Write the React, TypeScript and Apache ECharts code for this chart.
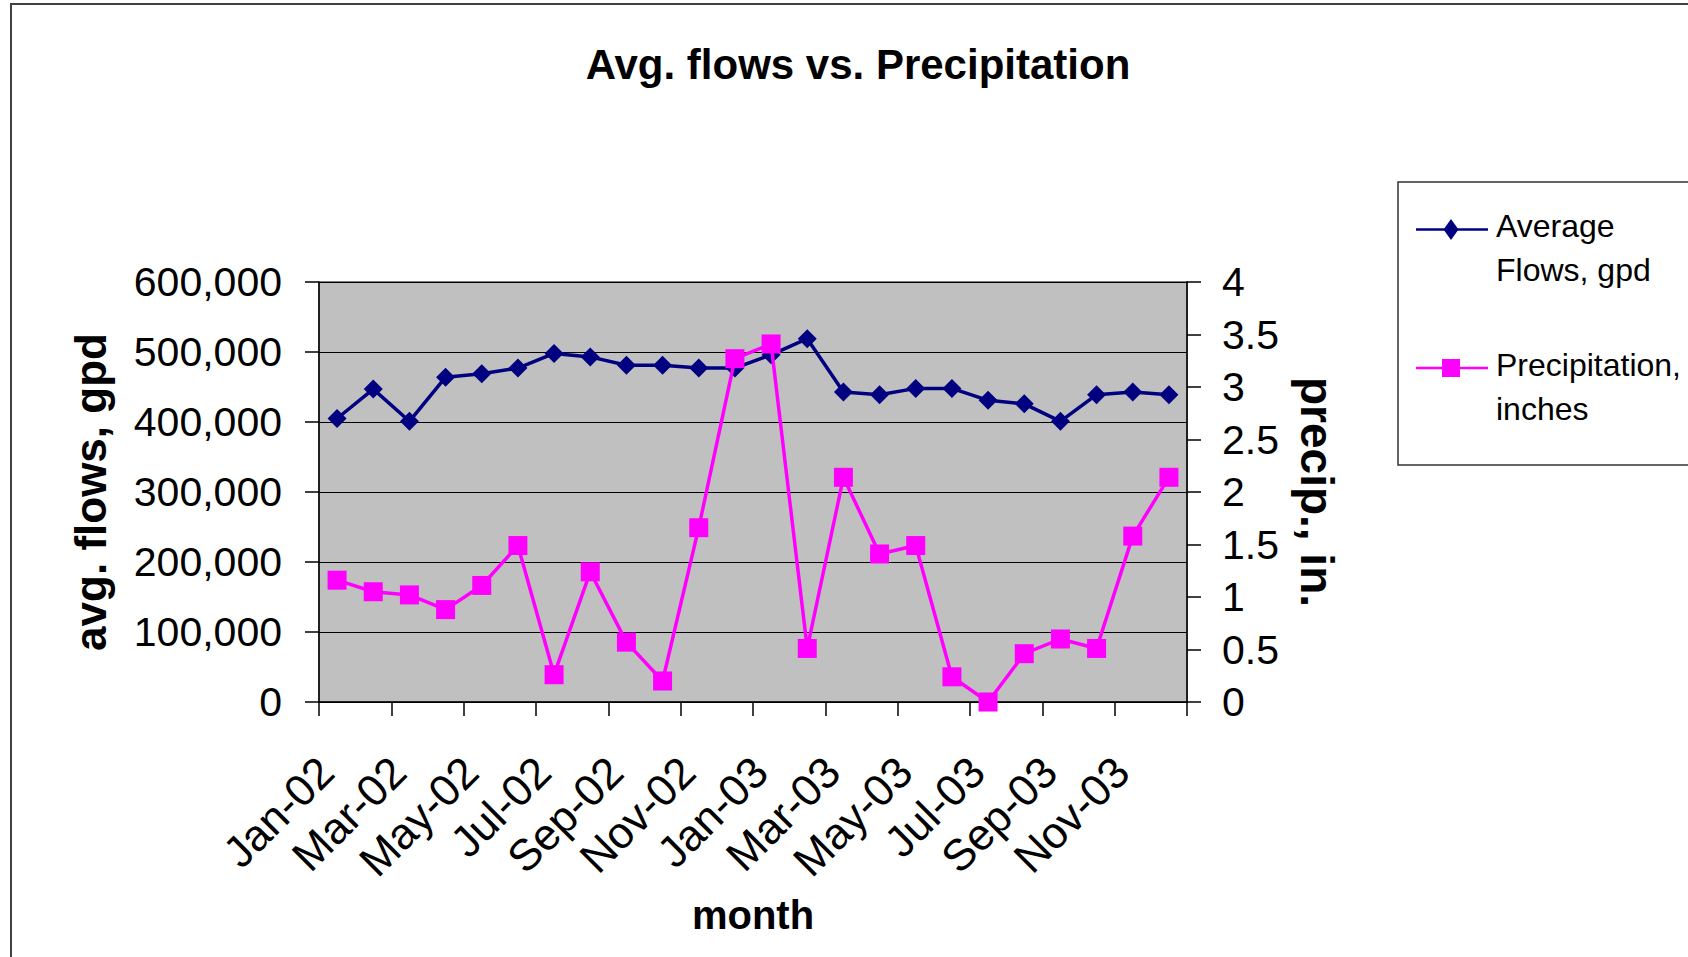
import React, { useEffect, useRef } from "react";
import * as echarts from "echarts";

const months = [
  "Jan-02", "Feb-02", "Mar-02", "Apr-02", "May-02", "Jun-02",
  "Jul-02", "Aug-02", "Sep-02", "Oct-02", "Nov-02", "Dec-02",
  "Jan-03", "Feb-03", "Mar-03", "Apr-03", "May-03", "Jun-03",
  "Jul-03", "Aug-03", "Sep-03", "Oct-03", "Nov-03", "Dec-03",
];

const avgFlows = [
  405000, 447000, 401000, 464000, 469000, 477000,
  498000, 493000, 481000, 481000, 477000, 477000,
  496000, 519000, 443000, 439000, 448000, 448000,
  431000, 426000, 401000, 439000, 443000, 439000,
];

const precipitation = [
  1.16, 1.05, 1.02, 0.88, 1.11, 1.49,
  0.26, 1.24, 0.57, 0.2, 1.66, 3.27,
  3.41, 0.51, 2.14, 1.41, 1.49, 0.24,
  0.0, 0.46, 0.6, 0.51, 1.58, 2.14,
];

const flowSeriesName = "Average Flows, gpd";
const precipSeriesName = "Precipitation, inches";
const legendLines1 = "Average\nFlows, gpd";
const legendLines2 = "Precipitation,\ninches";

const FONT = "'Liberation Sans', Arial, Helvetica, sans-serif";
const NAVY = "#000080";
const MAGENTA = "#FF00FF";

export default function App() {
  const ref = useRef<HTMLDivElement>(null);

  useEffect(() => {
    if (!ref.current) return;
    const chart = echarts.init(ref.current, undefined, { renderer: "svg" });
    chart.setOption({
      animation: false,
      backgroundColor: "#ffffff",
      textStyle: { fontFamily: FONT },
      title: {
        text: "Avg. flows vs. Precipitation",
        left: 853,
        top: 38,
        textAlign: "center",
        textStyle: { fontFamily: FONT, fontSize: 42, fontWeight: "bold", color: "#000" },
      },
      grid: {
        left: 319,
        top: 282,
        width: 868,
        height: 420,
        show: true,
        backgroundColor: "#C0C0C0",
        borderColor: "#808080",
        borderWidth: 2,
        containLabel: false,
      },
      xAxis: {
        type: "category",
        data: months,
        boundaryGap: true,
        name: "month",
        nameLocation: "middle",
        nameGap: 193,
        nameTextStyle: { fontFamily: FONT, fontSize: 40, fontWeight: "bold", color: "#000" },
        axisLine: { show: true, lineStyle: { color: "#000", width: 1.5 } },
        axisTick: { show: true, interval: 1, length: 14, lineStyle: { color: "#000", width: 1.5 } },
        axisLabel: {
          interval: 1,
          rotate: 45,
          margin: 51,
          padding: [0, 16, 0, 0],
          fontFamily: FONT,
          fontSize: 44,
          color: "#000",
        },
        splitLine: { show: false },
      },
      yAxis: [
        {
          type: "value",
          min: 0,
          max: 600000,
          interval: 100000,
          position: "left",
          name: "avg. flows, gpd",
          nameLocation: "middle",
          nameGap: 207,
          nameTextStyle: { fontFamily: FONT, fontSize: 44, fontWeight: "bold", color: "#000" },
          axisLine: { show: true, lineStyle: { color: "#000", width: 1.5 } },
          axisTick: { show: true, length: 14, lineStyle: { color: "#000", width: 1.5 } },
          axisLabel: {
            margin: 37,
            fontFamily: FONT,
            fontSize: 41,
            color: "#000",
            formatter: (v: number) => v.toLocaleString("en-US"),
          },
          splitLine: { show: true, lineStyle: { color: "#000", width: 1 } },
        },
        {
          type: "value",
          min: 0,
          max: 4,
          interval: 0.5,
          position: "right",
          name: "precip., in.",
          nameLocation: "middle",
          nameRotate: -90,
          nameGap: 107,
          nameTextStyle: { fontFamily: FONT, fontSize: 46, fontWeight: "bold", color: "#000" },
          axisLine: { show: true, lineStyle: { color: "#000", width: 1.5 } },
          axisTick: { show: true, length: 14, lineStyle: { color: "#000", width: 1.5 } },
          axisLabel: { margin: 35, fontFamily: FONT, fontSize: 41, color: "#000" },
          splitLine: { show: false },
        },
      ],
      series: [
        {
          name: flowSeriesName,
          type: "line",
          yAxisIndex: 0,
          data: avgFlows,
          symbol: "diamond",
          symbolSize: 19,
          lineStyle: { color: NAVY, width: 3.5 },
          itemStyle: { color: NAVY },
          z: 3,
        },
        {
          name: precipSeriesName,
          type: "line",
          yAxisIndex: 1,
          data: precipitation,
          symbol: "rect",
          symbolSize: 19,
          lineStyle: { color: MAGENTA, width: 3.5 },
          itemStyle: { color: MAGENTA },
          z: 4,
        },
      ],
      graphic: [
        {
          type: "rect",
          shape: { x: 11, y: 4, width: 2000, height: 2000 },
          style: { fill: "none", stroke: "#404040", lineWidth: 2 },
          silent: true,
          z: -10,
        },
        {
          type: "group",
          silent: true,
          children: [
            {
              type: "rect",
              shape: { x: 1398, y: 182, width: 400, height: 283 },
              style: { fill: "#ffffff", stroke: "#333333", lineWidth: 1.5 },
            },
            {
              type: "line",
              shape: { x1: 1416, y1: 229.5, x2: 1488, y2: 229.5 },
              style: { stroke: NAVY, lineWidth: 2.5 },
            },
            {
              type: "polygon",
              shape: { points: [[1451, 219], [1458.5, 229.5], [1451, 240], [1443.5, 229.5]] },
              style: { fill: NAVY },
            },
            {
              type: "text",
              x: 1496,
              y: 204,
              style: {
                text: legendLines1,
                fontFamily: FONT,
                fontSize: 32,
                lineHeight: 44,
                fill: "#000",
                verticalAlign: "top",
                align: "left",
              },
            },
            {
              type: "line",
              shape: { x1: 1416, y1: 368, x2: 1488, y2: 368 },
              style: { stroke: MAGENTA, lineWidth: 2.5 },
            },
            {
              type: "rect",
              shape: { x: 1442, y: 359, width: 18, height: 18 },
              style: { fill: MAGENTA },
            },
            {
              type: "text",
              x: 1496,
              y: 343,
              style: {
                text: legendLines2,
                fontFamily: FONT,
                fontSize: 32,
                lineHeight: 44,
                fill: "#000",
                verticalAlign: "top",
                align: "left",
              },
            },
          ],
        },
      ],
    });
    return () => {
      chart.dispose();
    };
  }, []);

  return (
    <div
      ref={ref}
      style={{
        position: "fixed",
        left: 0,
        top: 0,
        width: "1688px",
        height: "957px",
        background: "#ffffff",
      }}
    />
  );
}
